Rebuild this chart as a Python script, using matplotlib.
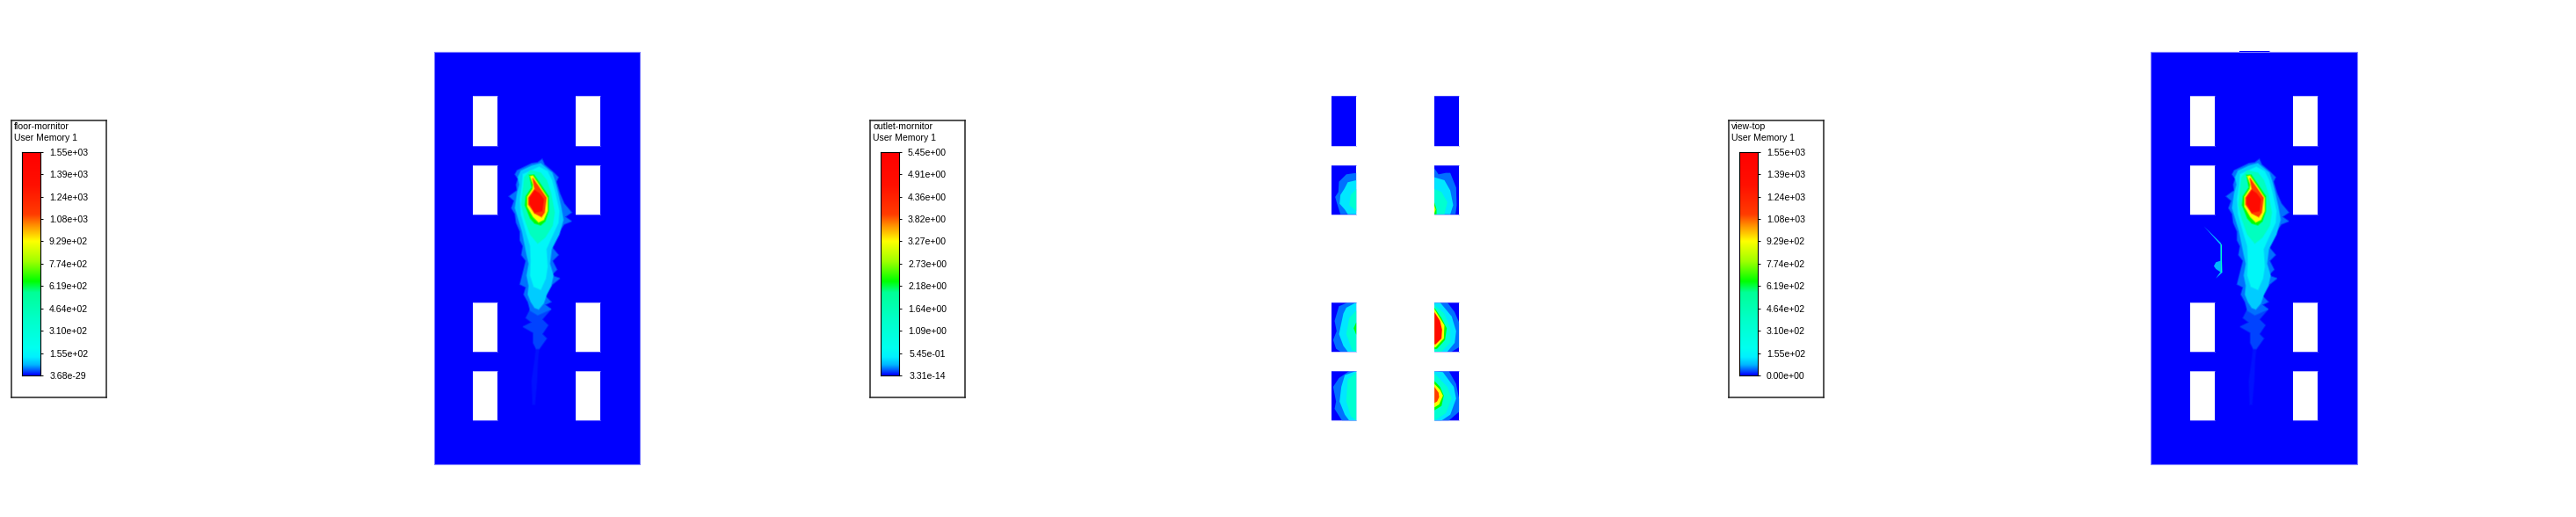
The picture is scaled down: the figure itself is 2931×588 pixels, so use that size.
import numpy as np
import matplotlib
matplotlib.use("Agg")
import matplotlib.pyplot as plt
from matplotlib.colors import LinearSegmentedColormap
from matplotlib.patches import Polygon, Rectangle

plt.rcParams['font.family'] = ['Liberation Sans', 'DejaVu Sans']

W, H = 2931, 588

# legend text
titles = ["floor-mornitor", "outlet-mornitor", "view-top"]
floor_ticks = ["3.68e-29", "1.55e+02", "3.10e+02", "4.64e+02", "6.19e+02", "7.74e+02",
               "9.29e+02", "1.08e+03", "1.24e+03", "1.39e+03", "1.55e+03"]
outlet_ticks = ["3.31e-14", "5.45e-01", "1.09e+00", "1.64e+00", "2.18e+00", "2.73e+00",
                "3.27e+00", "3.82e+00", "4.36e+00", "4.91e+00", "5.45e+00"]
top_ticks = ["0.00e+00"] + floor_ticks[1:]

# colour scale (fraction, colour)
scale = [(0.0, "#0000ff"), (0.015, "#0040ff"), (0.045, "#00b4ff"), (0.08, "#00f0ff"),
         (0.12, "#00fff0"), (0.25, "#00ffc8"), (0.37, "#00ff96"), (0.42, "#00ff00"),
         (0.51, "#a0ff00"), (0.60, "#ffff00"), (0.67, "#ff9000"), (0.72, "#ff3c00"),
         (0.85, "#ff1000"), (1.0, "#ff0000")]
cmap = LinearSegmentedColormap.from_list("fluent", scale, N=256)

# domain outline and window openings, same units for all three views
domain_x = (40, 743)
domain_y = (28, 1435)
window_x = [(174, 258), (525, 609)]
window_y = [(178, 347), (413, 581), (882, 1050), (1116, 1285)]

# plume contours on the floor, lowest level first
plume_levels = [0.006, 0.018, 0.028, 0.06, 0.10, 0.27, 0.42, 0.60, 0.72, 0.90]
plume_wisp = [(390, 1035), (385, 1080), (375, 1150), (378, 1230), (385, 1230), (392, 1150), (395, 1080), (400, 1035)]
plume_tail = [(370, 905), (355, 935), (375, 950), (345, 965), (380, 985), (380, 1020), (390, 1040), (400, 1040),
              (425, 1005), (410, 990), (430, 960), (410, 940), (440, 905)]
plume_0 = [(410, 394), (395, 405), (375, 408), (350, 420), (325, 432), (318, 445), (328, 460), (322, 480),
           (325, 500), (298, 520), (315, 535), (306, 560), (318, 580), (322, 610), (335, 640), (335, 670),
           (345, 690), (340, 720), (355, 740), (345, 780), (335, 820), (355, 830), (348, 855), (362, 880),
           (370, 910), (395, 925), (440, 905), (420, 890), (440, 880), (420, 860), (445, 820), (470, 800),
           (440, 790), (460, 770), (445, 740), (465, 720), (440, 690), (450, 665), (485, 615), (510, 605),
           (488, 590), (510, 575), (485, 545), (470, 510), (458, 470), (465, 455), (445, 435), (418, 412)]
plume_1 = [(405, 408), (375, 416), (338, 433), (328, 455), (333, 480), (325, 510), (318, 560), (330, 600),
           (342, 640), (352, 690), (358, 720), (365, 750), (358, 790), (365, 825), (362, 855), (372, 880),
           (385, 900), (398, 905), (415, 885), (425, 855), (440, 825), (448, 790), (436, 750), (442, 700),
           (468, 650), (482, 600), (474, 555), (464, 510), (454, 470), (444, 440)]
plume_2 = [(400, 420), (345, 445), (342, 480), (335, 530), (338, 580), (355, 640), (370, 690), (372, 740),
           (370, 790), (382, 828), (405, 838), (422, 800), (428, 760), (424, 700), (442, 660), (465, 610),
           (468, 570), (455, 510), (443, 465), (428, 435)]
plume_3 = [(370, 432), (350, 455), (345, 500), (340, 550), (352, 600), (370, 650), (395, 680), (420, 660),
           (445, 620), (452, 575), (440, 510), (425, 465), (405, 440)]
plume_4 = [(367, 448), (382, 447), (405, 480), (432, 520), (432, 570), (420, 605), (405, 618), (385, 612),
           (370, 595), (352, 550), (355, 520), (375, 490)]
plume_5 = [(370, 452), (378, 450), (405, 490), (428, 525), (428, 570), (415, 600), (398, 608), (380, 590),
           (360, 555), (360, 522), (378, 495), (380, 480)]
plume_6 = [(378, 458), (405, 497), (424, 525), (418, 575), (408, 590), (385, 578), (364, 548), (364, 525), (385, 495)]
plume_7 = [(385, 500), (400, 510), (415, 530), (410, 570), (385, 575), (368, 545), (368, 525)]
plume = [plume_wisp, plume_tail, plume_0, plume_1, plume_2, plume_3, plume_4, plume_5, plume_6, plume_7]

# thin streak only seen in view-top
streak_0 = [(221, 622), (280, 680), (284, 780), (262, 800), (277, 778), (262, 768), (255, 758), (262, 745), (277, 740), (277, 685)]
streak_1 = [(279, 684), (283, 684), (283, 780), (279, 780)]

# outlet faces: (level, outline) per opening, in the outlet view's units
outlet_dx, outlet_dy = 129, 120
outlet_faces = [
    (0.028, [(129, 320), (95, 325), (70, 350), (68, 385), (57, 402), (62, 420), (75, 461), (129, 461)]),
    (0.075, [(129, 345), (100, 352), (88, 375), (75, 395), (72, 425), (90, 445), (100, 461), (129, 461)]),
    (0.22, [(129, 375), (110, 395), (105, 430), (129, 450)]),
    (0.028, [(396, 305), (410, 325), (435, 320), (450, 320), (470, 370), (472, 430), (468, 461), (396, 461)]),
    (0.075, [(396, 335), (430, 345), (450, 380), (460, 430), (450, 461), (396, 461)]),
    (0.22, [(396, 375), (420, 385), (440, 420), (430, 461), (396, 461)]),
    (0.42, [(396, 420), (403, 445), (403, 461), (396, 461)]),
    (0.60, [(396, 432), (400, 445), (396, 458)]),
    (0.028, [(100, 762), (70, 775), (55, 825), (62, 860), (50, 890), (60, 920), (75, 930), (129, 930), (129, 762)]),
    (0.075, [(129, 762), (95, 780), (85, 800), (70, 870), (85, 910), (100, 930), (129, 930)]),
    (0.22, [(129, 790), (105, 815), (95, 870), (115, 925), (129, 930)]),
    (0.42, [(129, 830), (120, 850), (129, 872)]),
    (0.028, [(440, 762), (465, 795), (480, 830), (480, 915), (455, 930), (396, 930), (396, 762)]),
    (0.075, [(396, 762), (415, 762), (455, 810), (470, 860), (465, 900), (440, 930), (396, 930)]),
    (0.22, [(396, 770), (430, 800), (450, 850), (450, 900), (420, 930), (396, 930)]),
    (0.42, [(396, 780), (420, 815), (438, 850), (432, 890), (405, 920), (396, 922)]),
    (0.60, [(396, 785), (430, 840), (428, 885), (400, 915), (396, 915)]),
    (0.90, [(396, 795), (415, 825), (422, 855), (420, 885), (400, 905), (396, 905)]),
    (0.028, [(105, 996), (70, 1020), (50, 1050), (60, 1100), (55, 1125), (80, 1165), (129, 1165), (129, 996)]),
    (0.075, [(129, 996), (90, 1010), (78, 1050), (72, 1100), (90, 1145), (105, 1165), (129, 1165)]),
    (0.22, [(129, 1000), (100, 1025), (95, 1100), (110, 1150), (129, 1165)]),
    (0.028, [(396, 996), (445, 996), (470, 1040), (480, 1090), (480, 1135), (445, 1165), (396, 1165)]),
    (0.075, [(396, 996), (425, 1000), (462, 1050), (470, 1090), (450, 1145), (420, 1165), (396, 1165)]),
    (0.22, [(396, 1005), (440, 1050), (455, 1090), (435, 1140), (396, 1165)]),
    (0.42, [(396, 1030), (415, 1050), (428, 1080), (420, 1115), (396, 1130)]),
    (0.60, [(396, 1040), (415, 1060), (425, 1080), (412, 1110), (396, 1120)]),
    (0.72, [(396, 1050), (410, 1070), (412, 1085), (405, 1100), (396, 1105)]),
]

EDGE = "#7f7fff"


def px_axes(fig, left, top, right, bottom):
    return fig.add_axes([left / W, 1 - bottom / H, (right - left) / W, (bottom - top) / H])


def draw_legend(fig, left, title, ticks):
    box = px_axes(fig, left, 136.7, left + 107.5, 451.7)
    box.set_xticks([])
    box.set_yticks([])
    for s in box.spines.values():
        s.set_linewidth(1.1)
        s.set_color("#222222")
    box.set_xlim(0, 107.5)
    box.set_ylim(315, 0)
    box.text(3, 7.5, title, fontsize=7.6, va="center", ha="left")
    box.text(3, 20.5, "User Memory 1", fontsize=7.6, va="center", ha="left")

    bar = px_axes(fig, left + 11.7, 172.7, left + 32.3, 427)
    bar.imshow(np.linspace(1, 0, 256).reshape(-1, 1), cmap=cmap, aspect="auto", extent=(0, 1, 0, 1))
    bar.set_xticks([])
    bar.yaxis.tick_right()
    bar.set_yticks(np.linspace(0, 1, len(ticks)))
    bar.set_yticklabels(ticks, fontsize=7.6, ha="center")
    bar.tick_params(axis="y", length=1.8, width=0.7, pad=21.5)
    for s in bar.spines.values():
        s.set_linewidth(0.8)


def soft_polygon(ax, outline, level, z):
    # half transparent edge softens the step between contour bands
    ax.add_patch(Polygon(outline, closed=True, fc=cmap(level), ec=cmap(level, alpha=0.45), lw=1.4, zorder=z))


def draw_openings(ax):
    for wx in window_x:
        for wy in window_y:
            ax.add_patch(Rectangle((wx[0], wy[0]), wx[1] - wx[0], wy[1] - wy[0], fc="white", ec="none", zorder=5))
            for edge in wy:
                ax.plot(wx, [edge, edge], color=EDGE, lw=0.6, alpha=0.7, zorder=6)


def draw_plume(ax):
    for level, outline in zip(plume_levels, plume):
        soft_polygon(ax, outline, level, 2 + level)


def domain_axes(fig, left):
    ax = px_axes(fig, left, 59.3, left + 234.3, 528.3)
    ax.set_xlim(*domain_x)
    ax.set_ylim(domain_y[1], domain_y[0])
    ax.axis("off")
    return ax


def draw_domain(ax):
    ax.add_patch(Rectangle((domain_x[0], domain_y[0]), domain_x[1] - domain_x[0], domain_y[1] - domain_y[0],
                           fc="#0000ff", ec=EDGE, lw=0.8, zorder=1, clip_on=False))


fig = plt.figure(figsize=(W / 100, H / 100), dpi=100, facecolor="white")

draw_legend(fig, 13.2, titles[0], floor_ticks)
draw_legend(fig, 990.4, titles[1], outlet_ticks)
draw_legend(fig, 1967.2, titles[2], top_ticks)

# floor view
ax1 = domain_axes(fig, 493.5)
draw_domain(ax1)
draw_plume(ax1)
draw_openings(ax1)

# outlet view, only the openings are coloured
ax2 = domain_axes(fig, 1470.5)
for wx in window_x:
    for wy in window_y:
        ax2.add_patch(Rectangle((wx[0], wy[0]), wx[1] - wx[0], wy[1] - wy[0], fc="#0000ff", ec="none", zorder=1))
        for edge in wy:
            ax2.plot(wx, [edge, edge], color=EDGE, lw=0.6, alpha=0.6, zorder=6)
for i, (level, outline) in enumerate(outlet_faces):
    pts = [(x + outlet_dx, y + outlet_dy) for x, y in outline]
    ax2.add_patch(Polygon(pts, closed=True, fc=cmap(level), ec="none", zorder=2 + i * 0.01))

# top view
ax3 = domain_axes(fig, 2447.3)
draw_domain(ax3)
ax3.plot([343, 443], [25, 25], color=EDGE, lw=0.8, clip_on=False, zorder=1)
ax3.add_patch(Rectangle((343, 25), 100, 3, fc="#0000ff", ec="none", clip_on=False, zorder=1))
draw_plume(ax3)
ax3.add_patch(Polygon(streak_0, closed=True, fc=cmap(0.05), ec="none", zorder=2))
ax3.add_patch(Polygon(streak_1, closed=True, fc=cmap(0.25), ec="none", zorder=3))
draw_openings(ax3)

plt.savefig("out.png", dpi=100)
plt.close()
